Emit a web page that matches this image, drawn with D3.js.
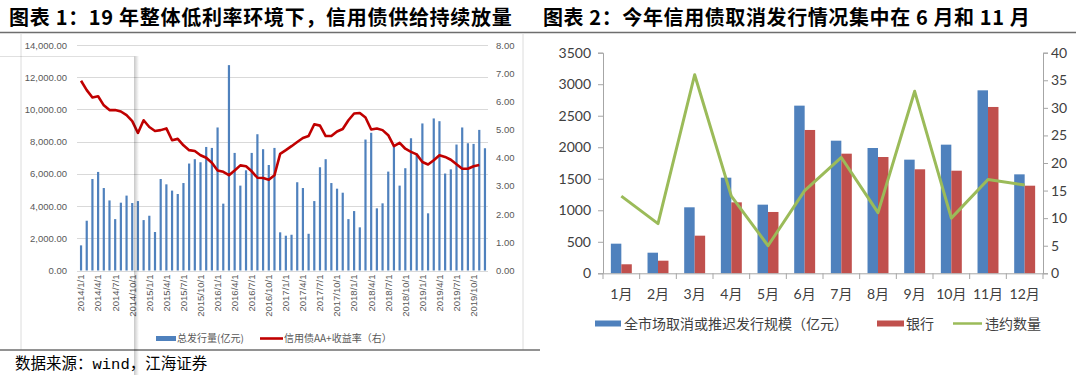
<!DOCTYPE html>
<html>
<head>
<meta charset="utf-8">
<script src="https://cdn.jsdelivr.net/npm/d3@7/dist/d3.min.js"></script>
<style>
  body { margin: 0; background: #fff; }
  svg { display: block; }
</style>
</head>
<body>
<script>
'use strict'

// ---- chart 1: monthly issuance (bars) and AA+ yield (line), 2014/1 - 2019/12
const volume = [
  1560, 3090, 5680, 6120, 5120, 4350, 3190, 4210, 4650, 4190, 4310, 3130,
  3400, 2390, 5680, 5350, 4960, 4750, 5430, 6640, 6910, 6720, 7670, 7610,
  8880, 4150, 12750, 7300, 5270, 6220, 7300, 8460, 7530, 6550, 7610, 2370,
  2160, 2220, 5480, 5120, 2280, 4310, 6410, 6910, 5430, 5080, 4830, 3190,
  3690, 2680, 8130, 8550, 3860, 4170, 6140, 7720, 5270, 6350, 8210, 7260,
  9130, 3550, 9440, 9270, 6020, 6280, 7820, 8880, 7900, 7860, 8730, 7590
];
const yieldAA = [
  6.73, 6.40, 6.14, 6.18, 5.86, 5.69, 5.69, 5.64, 5.51, 5.30, 4.88, 5.33,
  5.09, 4.95, 4.98, 5.04, 4.62, 4.67, 4.44, 4.27, 4.24, 4.09, 4.00, 3.82,
  3.55, 3.50, 3.38, 3.55, 3.73, 3.70, 3.52, 3.29, 3.28, 3.22, 3.38, 4.14,
  4.27, 4.41, 4.56, 4.70, 4.77, 5.19, 5.14, 4.77, 4.77, 4.93, 5.02, 5.33,
  5.57, 5.59, 5.43, 5.00, 5.04, 4.98, 4.80, 4.41, 4.53, 4.32, 4.21, 4.12,
  3.85, 3.76, 3.91, 4.09, 4.03, 3.93, 3.77, 3.61, 3.61, 3.70, 3.74
];
const volumeTicks = [0, 2000, 4000, 6000, 8000, 10000, 12000, 14000];
const yieldTicks = [0, 1, 2, 3, 4, 5, 6, 7, 8];

// ---- chart 2: cancelled / postponed issuance and defaults in 2019
const months2 = ["1月", "2月", "3月", "4月", "5月", "6月", "7月", "8月", "9月", "10月", "11月", "12月"];
const cancelAll = [470, 327, 1047, 1517, 1089, 2660, 2104, 1988, 1803, 2041, 2903, 1570];
const cancelBank = [143, 200, 597, 1126, 973, 2274, 1898, 1845, 1650, 1628, 2639, 1390];
const defaults = [14, 9, 36, 14, 5, 15, 21, 11, 33, 10, 17, 16];
const amountTicks = [0, 500, 1000, 1500, 2000, 2500, 3000, 3500];
const countTicks = [0, 5, 10, 15, 20, 25, 30, 35, 40];

const w = 1080;
const h = 375;
const cjk = "'Noto Sans CJK SC', sans-serif";
const num2 = "Lato, 'Noto Sans CJK SC', sans-serif";

const svg = d3.select("body")
  .append("svg")
  .attr("width", w)
  .attr("height", h);

// titles
svg.append("text")
  .attr("x", 9).attr("y", 25)
  .style("font-family", cjk).style("font-weight", 700).style("font-size", "20px")
  .style("letter-spacing", "0.7px")
  .attr("fill", "#000")
  .text("图表 1：19 年整体低利率环境下，信用债供给持续放量");

svg.append("text")
  .attr("x", 543).attr("y", 25)
  .style("font-family", cjk).style("font-weight", 700).style("font-size", "20px")
  .style("letter-spacing", "0.6px")
  .attr("fill", "#000")
  .text("图表 2：今年信用债取消发行情况集中在 6 月和 11 月");

svg.append("line")
  .attr("x1", 0).attr("x2", 1076).attr("y1", 32.5).attr("y2", 32.5)
  .attr("stroke", "#6e6e6e").attr("stroke-width", 1.5);

// ================= chart 1 =================
const g1 = svg.append("g");

// light frame of the chart area
g1.append("line").attr("x1", 21).attr("x2", 21).attr("y1", 33).attr("y2", 350)
  .attr("stroke", "#dcdcdc");
g1.append("line").attr("x1", 523).attr("x2", 523).attr("y1", 33).attr("y2", 350)
  .attr("stroke", "#dcdcdc");

const months = d3.timeMonths(new Date(2014, 0, 1), new Date(2020, 0, 1));
const fmtMonth = d3.timeFormat("%Y/%-m/%-d");

const xScale = d3.scaleBand()
  .domain(d3.range(months.length))
  .range([78.2, 487.8]);

const yVol = d3.scaleLinear()
  .domain([0, 14000])
  .range([270.5, 45]);

const yYield = d3.scaleLinear()
  .domain([0, 8])
  .range([270.5, 45]);

g1.selectAll("line.grid")
  .data(volumeTicks)
  .enter()
  .append("line")
  .attr("class", "grid")
  .attr("x1", 77).attr("x2", 488)
  .attr("y1", (d) => Math.round(yVol(d)) + 0.5)
  .attr("y2", (d) => Math.round(yVol(d)) + 0.5)
  .attr("stroke", "#d9d9d9");

const axisL = g1.append("g")
  .attr("transform", "translate(77,0)")
  .call(d3.axisLeft(yVol).tickValues(volumeTicks).tickFormat(d3.format(",.2f")).tickSize(0).tickPadding(10));

const axisR = g1.append("g")
  .attr("transform", "translate(488,0)")
  .call(d3.axisRight(yYield).tickValues(yieldTicks).tickFormat(d3.format(".2f")).tickSize(0).tickPadding(8));

const axisX = g1.append("g")
  .attr("transform", "translate(0,270.5)")
  .call(d3.axisBottom(xScale).tickValues(d3.range(0, months.length, 3)).tickFormat((i) => fmtMonth(months[i])).tickSize(0));

axisX.selectAll("text")
  .attr("transform", "rotate(-90)")
  .attr("x", -4)
  .attr("y", 0)
  .attr("dy", "0.35em")
  .style("text-anchor", "end");

[axisL, axisR, axisX].forEach((a) => {
  a.select(".domain").remove();
  a.selectAll("text")
    .style("font-family", "'Liberation Sans', Arial, sans-serif")
    .style("font-size", "9.5px")
    .attr("fill", "#595959");
});

g1.selectAll("rect.bar")
  .data(volume)
  .enter()
  .append("rect")
  .attr("class", "bar")
  .attr("fill", "#4f81bd")
  .attr("x", (d, i) => xScale(i) + xScale.bandwidth() / 2 - 1.1)
  .attr("y", (d) => yVol(d))
  .attr("width", 2.2)
  .attr("height", (d) => yVol(0) - yVol(d));

const yieldLine = d3.line()
  .x((d, i) => xScale(i) + xScale.bandwidth() / 2)
  .y((d) => yYield(d));

g1.append("path")
  .datum(yieldAA)
  .attr("d", yieldLine)
  .attr("fill", "none")
  .attr("stroke", "#c00000")
  .attr("stroke-width", 2.6)
  .attr("stroke-linejoin", "round");

// legend
g1.append("rect").attr("x", 156).attr("y", 336).attr("width", 20).attr("height", 5).attr("fill", "#4f81bd");
g1.append("text").attr("x", 177).attr("y", 342)
  .style("font-family", cjk).style("font-size", "10px").attr("fill", "#595959")
  .text("总发行量(亿元)");
g1.append("line").attr("x1", 260).attr("x2", 283).attr("y1", 338.5).attr("y2", 338.5)
  .attr("stroke", "#c00000").attr("stroke-width", 2.6);
g1.append("text").attr("x", 284).attr("y", 342)
  .style("font-family", cjk).style("font-size", "10px").attr("fill", "#595959")
  .text("信用债AA+收益率（右）");

svg.append("line")
  .attr("x1", 0).attr("x2", 540).attr("y1", 350).attr("y2", 350)
  .attr("stroke", "#6e6e6e").attr("stroke-width", 1.5);

const src = svg.append("text")
  .attr("x", 15).attr("y", 369)
  .style("font-family", cjk).style("font-size", "15.5px")
  .attr("fill", "#000");
src.append("tspan").text("数据来源：");
src.append("tspan").style("font-family", "'Liberation Mono', monospace").text("wind");
src.append("tspan").text("，江海证券");

// shadow of an overlapping window in the screenshot
const defs = svg.append("defs");
const grad = defs.append("linearGradient").attr("id", "shade");
grad.append("stop").attr("offset", "0%").attr("stop-color", "#000").attr("stop-opacity", 0.22);
grad.append("stop").attr("offset", "100%").attr("stop-color", "#000").attr("stop-opacity", 0);
svg.append("rect").attr("x", 134).attr("y", 56).attr("width", 5).attr("height", 319).attr("fill", "url(#shade)");
svg.append("line").attr("x1", 0).attr("x2", 134).attr("y1", 56.5).attr("y2", 56.5)
  .attr("stroke", "#000").attr("stroke-opacity", 0.12);

// ================= chart 2 =================
const g2 = svg.append("g");
const axisColor = "#a6a6a6";

const x2 = d3.scaleBand()
  .domain(months2)
  .range([603, 1043]);

const yAmt = d3.scaleLinear()
  .domain([0, 3500])
  .range([273.3, 52.7]);

const yCnt = d3.scaleLinear()
  .domain([0, 40])
  .range([273.3, 52.7]);

const bw = x2.step() / 3.5;

g2.selectAll("rect.all")
  .data(cancelAll)
  .enter()
  .append("rect")
  .attr("class", "all")
  .attr("fill", "#4f81bd")
  .attr("x", (d, i) => x2(months2[i]) + x2.bandwidth() / 2 - bw)
  .attr("y", (d) => yAmt(d))
  .attr("width", bw)
  .attr("height", (d) => yAmt(0) - yAmt(d));

g2.selectAll("rect.bank")
  .data(cancelBank)
  .enter()
  .append("rect")
  .attr("class", "bank")
  .attr("fill", "#c0504d")
  .attr("x", (d, i) => x2(months2[i]) + x2.bandwidth() / 2)
  .attr("y", (d) => yAmt(d))
  .attr("width", bw)
  .attr("height", (d) => yAmt(0) - yAmt(d));

const defaultLine = d3.line()
  .x((d, i) => x2(months2[i]) + x2.bandwidth() / 2)
  .y((d) => yCnt(d));

g2.append("path")
  .datum(defaults)
  .attr("d", defaultLine)
  .attr("fill", "none")
  .attr("stroke", "#9bbb59")
  .attr("stroke-width", 3)
  .attr("stroke-linejoin", "round");

const a2L = g2.append("g")
  .attr("transform", "translate(603,0)")
  .call(d3.axisLeft(yAmt).tickValues(amountTicks).tickFormat(d3.format("d")).tickSize(5).tickPadding(7));

const a2R = g2.append("g")
  .attr("transform", "translate(1043,0)")
  .call(d3.axisRight(yCnt).tickValues(countTicks).tickFormat(d3.format("d")).tickSize(5).tickPadding(3));

const a2X = g2.append("g")
  .attr("transform", "translate(0,273.3)")
  .call(d3.axisBottom(x2).tickSize(0).tickPadding(16));

// category separators on the month axis
g2.selectAll("line.sep")
  .data(d3.range(months2.length + 1))
  .enter()
  .append("line")
  .attr("class", "sep")
  .attr("x1", (i) => x2.range()[0] + i * x2.step())
  .attr("x2", (i) => x2.range()[0] + i * x2.step())
  .attr("y1", 273.3).attr("y2", 279)
  .attr("stroke", axisColor);

[a2L, a2R, a2X].forEach((a) => {
  a.select(".domain").attr("stroke", axisColor);
  a.selectAll(".tick line").attr("stroke", axisColor);
  a.selectAll("text")
    .style("font-family", num2)
    .style("font-size", "14px")
    .attr("fill", "#404040");
});

// legend
g2.append("rect").attr("x", 595).attr("y", 320.5).attr("width", 26).attr("height", 6).attr("fill", "#4f81bd");
g2.append("text").attr("x", 624).attr("y", 328.5)
  .style("font-family", cjk).style("font-size", "14px").attr("fill", "#404040")
  .text("全市场取消或推迟发行规模（亿元）");
g2.append("rect").attr("x", 877).attr("y", 320.5).attr("width", 27).attr("height", 6).attr("fill", "#c0504d");
g2.append("text").attr("x", 906).attr("y", 328.5)
  .style("font-family", cjk).style("font-size", "14px").attr("fill", "#404040")
  .text("银行");
g2.append("line").attr("x1", 953).attr("x2", 982).attr("y1", 323.5).attr("y2", 323.5)
  .attr("stroke", "#9bbb59").attr("stroke-width", 2.5);
g2.append("text").attr("x", 985).attr("y", 328.5)
  .style("font-family", cjk).style("font-size", "14px").attr("fill", "#404040")
  .text("违约数量");
</script>
</body>
</html>
